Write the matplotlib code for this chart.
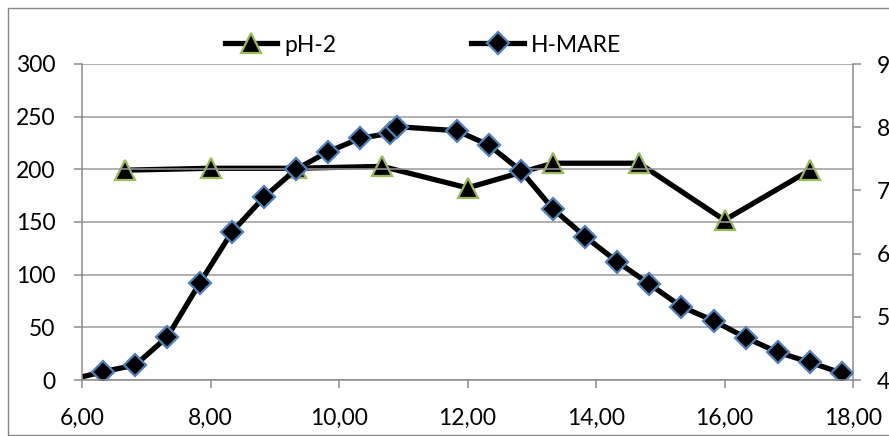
import matplotlib

matplotlib.use("Agg")
import matplotlib.pyplot as plt
from matplotlib.patches import Rectangle
from matplotlib.ticker import FuncFormatter, MultipleLocator

# pH readings every 80 minutes (right axis)
ph_hours = [6.67, 8.00, 9.33, 10.67, 12.00, 13.33, 14.67, 16.00, 17.33]
ph_values = [7.32, 7.35, 7.35, 7.38, 7.04, 7.43, 7.43, 6.53, 7.32]

# H-MARE readings every half hour (left axis)
mare_hours = [5.83, 6.33, 6.83, 7.33, 7.83, 8.33, 8.83, 9.33, 9.83, 10.33,
              10.80, 10.90, 11.83, 12.33, 12.83, 13.33, 13.83, 14.33, 14.83,
              15.33, 15.83, 16.33, 16.83, 17.33, 17.83]
mare_values = [0.5, 7.9, 14.2, 41.1, 91.8, 140.2, 173.4, 200.0, 216.7, 229.5,
               234.3, 240.5, 236.7, 223.1, 198.7, 162.5, 136.1, 112.3, 91.1,
               69.6, 56.3, 40.2, 26.3, 16.8, 6.4]

plt.rcParams["font.family"] = ["Lato", "DejaVu Sans"]
plt.rcParams["font.size"] = 16.5

GRID = "#9a9a9a"
AXIS = "#8c8c8c"


def comma(fmt):
    return FuncFormatter(lambda v, _: fmt.format(v).replace(".", ","))


fig = plt.figure(figsize=(8.89, 4.36), dpi=100)
fig.patches.append(Rectangle((8 / 889, 1 / 436), 1.0, 427 / 436, transform=fig.transFigure,
                             fill=False, edgecolor="#868686", linewidth=1.0))

ax = fig.add_axes([82 / 889, 1 - 380 / 436, (853 - 82) / 889, (380 - 64) / 436])
ax2 = ax.twinx()
ax.set_zorder(ax2.get_zorder() + 1)
ax.patch.set_visible(False)

ph_line, = ax2.plot(ph_hours, ph_values, color="black", linewidth=3.8,
                    marker="^", markersize=14, markerfacecolor="black",
                    markeredgecolor="#9bbb59", markeredgewidth=1.6, label="pH-2")
mare_line, = ax.plot(mare_hours, mare_values, color="black", linewidth=3.8,
                     marker="D", markersize=11.5, markerfacecolor="black",
                     markeredgecolor="#4f81bd", markeredgewidth=1.6, label="H-MARE")

ax.set_xlim(6, 18)
ax.set_ylim(0, 300)
ax2.set_ylim(4, 9)
ax.xaxis.set_major_locator(MultipleLocator(2))
ax.yaxis.set_major_locator(MultipleLocator(50))
ax2.yaxis.set_major_locator(MultipleLocator(1))
ax.xaxis.set_major_formatter(comma("{:.2f}"))
ax2.yaxis.set_major_formatter(comma("{:.2f}"))

ax.grid(axis="y", color=GRID, linewidth=1.1)
ax.set_axisbelow(True)

for a in (ax, ax2):
    a.spines["top"].set_visible(False)
    for side in ("left", "bottom", "right"):
        a.spines[side].set_color(AXIS)
        a.spines[side].set_linewidth(1.1)
ax.spines["right"].set_visible(False)
ax2.spines["left"].set_visible(False)
ax2.spines["bottom"].set_visible(False)

ax.tick_params(axis="y", direction="out", length=6, width=1.1, color=AXIS, pad=13)
ax.tick_params(axis="x", direction="out", length=6, width=1.1, color=AXIS, pad=14)
ax2.tick_params(axis="y", direction="out", length=6, width=1.1, color=AXIS, pad=11)

fig.legend(handles=[ph_line, mare_line], loc="center",
           bbox_to_anchor=(423 / 889, 1 - 45 / 436), ncol=2, frameon=False,
           handlelength=2.3, handletextpad=0.3, columnspacing=5.9,
           borderaxespad=0, borderpad=0)

fig.savefig("out.png", dpi=100, facecolor="white")
